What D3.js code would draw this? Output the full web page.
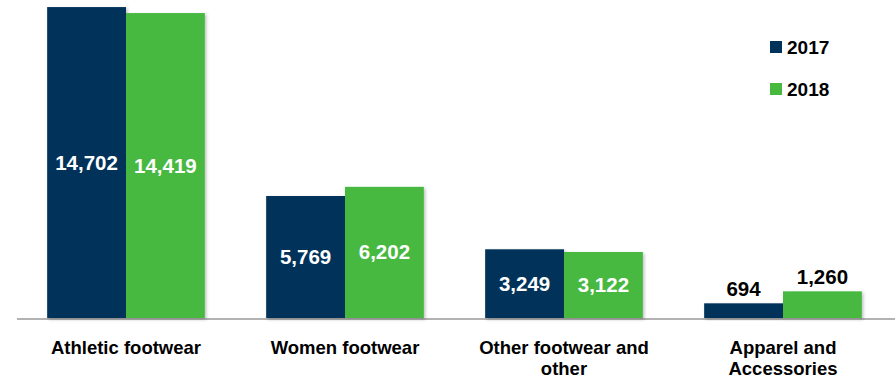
<!DOCTYPE html>
<html>
<head>
<meta charset="utf-8">
<script src="https://cdn.jsdelivr.net/npm/d3@7"></script>
<style>
  body { margin: 0; background: #fff; }
  text { font-family: "Century Gothic", "Liberation Sans", Arial, sans-serif; font-weight: bold; }
</style>
</head>
<body>
<div id="chart"></div>
<script>
const categories = [
  ["Athletic footwear"],
  ["Women footwear"],
  ["Other footwear and", "other"],
  ["Apparel and", "Accessories"]
];
const years = ["2017", "2018"];
const values2017 = [14702, 5769, 3249, 694];
const values2018 = [14419, 6202, 3122, 1260];

const W = 895, H = 379;
const colors = { "2017": "#00325A", "2018": "#47B93F" };

const svg = d3.select("#chart").append("svg")
  .attr("width", W).attr("height", H);

const defs = svg.append("defs");
const f = defs.append("filter").attr("id", "shadow")
  .attr("x", "-10%").attr("y", "-10%").attr("width", "125%").attr("height", "125%");
f.append("feDropShadow").attr("dx", 1.5).attr("dy", 1.5).attr("stdDeviation", 1.5)
  .attr("flood-color", "#000").attr("flood-opacity", 0.25);

const keys = categories.map(c => c.join(" "));
const x = d3.scaleBand().domain(keys).range([16.5, 892.5]).paddingInner(0.28).paddingOuter(0.14);
const xs = d3.scaleBand().domain(years).range([0, x.bandwidth()]);
const y = d3.scaleLinear().domain([0, 14800]).range([318, 5]);

const data = keys.map((k, i) => ({
  key: k,
  lines: categories[i],
  vals: [ { year: "2017", v: values2017[i] }, { year: "2018", v: values2018[i] } ]
}));

// baseline
svg.append("line")
  .attr("x1", 17).attr("x2", W).attr("y1", 319).attr("y2", 319)
  .attr("stroke", "#999").attr("stroke-width", 1.5);

const g = svg.selectAll("g.cat").data(data).join("g")
  .attr("class", "cat")
  .attr("transform", d => `translate(${x(d.key)},0)`);

g.selectAll("rect").data(d => d.vals).join("rect")
  .attr("x", d => xs(d.year))
  .attr("y", d => y(d.v))
  .attr("width", xs.bandwidth())
  .attr("height", d => y(0) - y(d.v))
  .attr("fill", d => colors[d.year])
  .attr("filter", "url(#shadow)");

const fmt = d3.format(",");
g.selectAll("text.val").data(d => d.vals).join("text")
  .attr("class", "val")
  .attr("x", d => xs(d.year) + xs.bandwidth() / 2)
  .attr("y", d => {
    const h = y(0) - y(d.v);
    return h > 40 ? (y(d.v) + y(0)) / 2 + 7 : y(d.v) - 7;
  })
  .attr("text-anchor", "middle")
  .attr("font-size", 20.5)
  .attr("fill", d => (y(0) - y(d.v)) > 40 ? "#fff" : "#000")
  .text(d => fmt(d.v));

// category labels
g.append("text")
  .attr("x", x.bandwidth() / 2)
  .attr("text-anchor", "middle")
  .attr("font-size", 18.5)
  .attr("fill", "#000")
  .selectAll("tspan").data(d => d.lines).join("tspan")
  .attr("x", x.bandwidth() / 2)
  .attr("y", (d, i) => 354 + i * 21)
  .text(d => d);

// legend
const leg = svg.append("g").selectAll("g").data(years).join("g")
  .attr("transform", (d, i) => `translate(770,${41 + i * 42})`);
leg.append("rect").attr("width", 12).attr("height", 12).attr("fill", d => colors[d]);
leg.append("text").attr("x", 17).attr("y", 13).attr("font-size", 19).attr("fill", "#000").text(d => d);
</script>
</body>
</html>
